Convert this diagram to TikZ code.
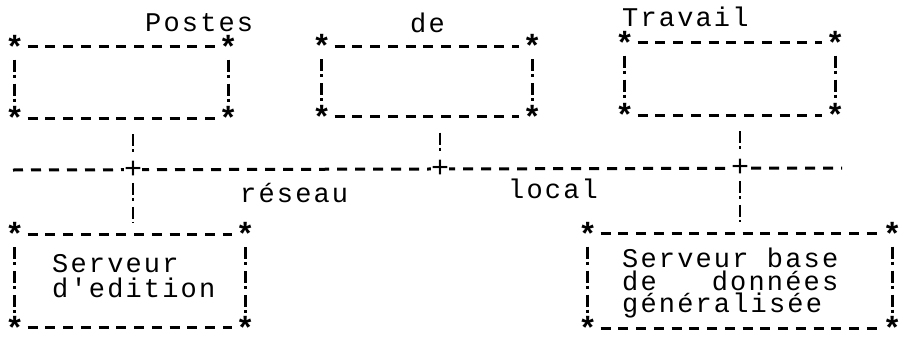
\documentclass[tikz,border=0pt]{standalone}
\usepackage{fontspec}
\newfontfamily\ecran[LetterSpace=8]{Liberation Mono}
\newfontfamily\ecrangras{Liberation Mono Bold}
\usetikzlibrary{positioning}
\tikzset{
    %Define style for boxes
    boite/.style={
           rectangle,
           inner sep=0pt,
           },
    %Define style for texts
    texte/.style={
           font=\ecran\fontsize{27pt}{27pt}\selectfont,
           inner sep=0pt,
           anchor=base west,
           },
    etoile/.style={
           font=\ecrangras\fontsize{32pt}{32pt}\selectfont,
           inner sep=0pt,
           },
    croix/.style={
           font=\ecran\fontsize{30pt}{30pt}\selectfont,
           inner sep=0pt,
           fill=white,
           },
    % Define line styles
    tiret/.style={
           line width=3pt,
           dash pattern=on 10pt off 7.75pt,
           shorten <=3pt,
           shorten >=3pt,},
    barre/.style={
           line width=2.8pt,
           dash pattern=on 12pt off 3pt on 3pt off 6pt,
           shorten <=1pt,
           shorten >=1pt,},
    haut/.style={barre, shorten <=16pt, shorten >=5pt},
    bas/.style={barre, shorten <=4pt, shorten >=12pt},
}
\begin{document}
\begin{tikzpicture}[x=1pt,y=-1pt]
\useasboundingbox (0,0) rectangle (904,340);

 %boxes
\node[boite, minimum width=213pt, minimum height=71pt] (poste1) at (121.5,82.5) {};
\node[boite, minimum width=210pt, minimum height=70pt] (poste2) at (427,81.5) {};
\node[boite, minimum width=210pt, minimum height=72pt] (poste3) at (730,79) {};
\node[boite, minimum width=230pt, minimum height=93pt] (edit) at (130,281) {};
\node[boite, minimum width=304pt, minimum height=94pt] (base) at (740,281) {};

\foreach \b in {poste1,poste2,poste3,edit,base}{
  \foreach \c/\n in {north west/nw,north east/ne,south west/sw,south east/se}
    \node[etoile] (\b-\n) at (\b.\c) {*};
  \draw[tiret] (\b-nw) -- (\b-ne);
  \draw[tiret] (\b-sw) -- (\b-se);
  \draw[barre] (\b-nw) -- (\b-sw);
  \draw[barre] (\b-ne) -- (\b-se);
}

 %network
\coordinate (ouest) at (13,170);
\coordinate (est) at (842,168);
\draw[line width=3pt, dash pattern=on 10pt off 8pt] (ouest) -- (est);
\node[croix] (j1) at (133,170) {+};
\node[croix] (j2) at (440,169) {+};
\node[croix] (j3) at (740,168) {+};

\path
    (j1 |- poste1.south) edge[haut] (j1)
    (j2 |- poste2.south) edge[haut] (j2)
    (j3 |- poste3.south) edge[haut] (j3)
    (j1) edge[bas] (j1 |- edit.north)
    (j3) edge[bas] (j3 |- base.north);

 %labels
\node[texte] (postes) at (145,31) {Postes};
\node[texte] (de) at (410,32) {de};
\node[texte] (travail) at (622,27) {Travail};
\node[texte] (reseau) at (240,202) {réseau};
\node[texte] (local) at (508,198) {local};
\node[texte] (edit1) at (52,272) {Serveur};
\node[texte] (edit2) at (52,297) {d'edition};
\node[texte] (base1) at (622,267) {Serveur base};
\node[texte] (base2) at (622,290) {de~~~données};
\node[texte] (base3) at (622,312) {généralisée};

\end{tikzpicture}
\end{document}
